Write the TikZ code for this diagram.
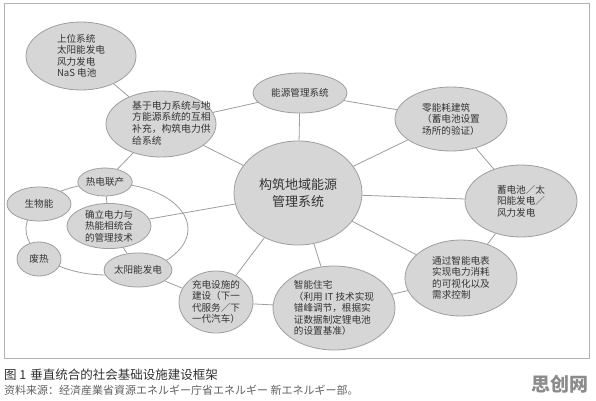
\documentclass[tikz,border=0pt]{standalone}
\usepackage{fontspec}
\setmainfont{Noto Sans CJK SC}
\usetikzlibrary{shapes.geometric,backgrounds}
\begin{document}
\begin{tikzpicture}[x=1pt,y=-1pt,
  bub/.style={ellipse, draw=black!38, fill=black!16, line width=0.8pt, inner sep=0pt,
    text=black!80, align=left, font=\fontsize{9.6}{11.5}\selectfont},
  conn/.style={draw=black!38, line width=0.8pt},
  txt/.style={inner sep=0pt, text=black!80, align=left, font=\fontsize{9.8}{11.6}\selectfont}]
\useasboundingbox (0,0) rectangle (596,400);
% nodes
\node[bub, minimum width=110, minimum height=68] (A) at (81,56) {上位系统\\太阳能发电\\风力发电\\NaS 电池};
\node[bub, minimum width=110, minimum height=66] (B) at (161,124) {};
\node[txt, anchor=west] (Bt) at (132,123) {基于电力系统与地\\方能源系统的互相\\补充，构筑电力供\\给系统};
\node[bub, minimum width=94, minimum height=40] (C) at (300,93) {能源管理系统};
\node[bub, minimum width=112, minimum height=64] (D) at (451,119) {零能耗建筑\\（蓄电池设置\\场所的验证）};
\node[bub, minimum width=128, minimum height=104, align=center, font=\fontsize{13}{17}\selectfont] (E) at (298,193) {构筑地域能源\\管理系统};
\node[bub, minimum width=112, minimum height=72] (F) at (521,201) {蓄电池／太\\阳能发电／\\风力发电};
\node[bub, minimum width=112, minimum height=76] (G) at (461,278) {通过智能电表\\实现电力消耗\\的可视化以及\\需求控制};
\node[bub, minimum width=122, minimum height=84] (H) at (334,308) {智能住宅\\（利用 IT 技术实现\\错峰调节，根据实\\证数据制定锂电池\\的设置基准）};
\node[bub, minimum width=74, minimum height=62] (I) at (216,302) {充电设施的\\建设（下一\\代服务／下\\一代汽车）};
\node[bub, minimum width=64, minimum height=34] (J) at (138,270) {太阳能发电};
\node[bub, minimum width=84, minimum height=42] (K) at (109,226) {确立电力与\\热能相统合\\的管理技术};
\node[bub, minimum width=54, minimum height=28] (L) at (105,182) {热电联产};
\node[bub, minimum width=64, minimum height=34] (M) at (39,204) {生物能};
\node[bub, minimum width=44, minimum height=34] (N) at (39,259) {废热};
% background: page, frame, loop and connectors
\begin{pgfonlayer}{background}
\fill[white] (0,0) rectangle (596,400);
\draw[black!30, line width=0.8pt] (4,3) rectangle (589,358);
\draw[conn] (107,229) ellipse [x radius=81, y radius=46];
\draw[conn] (B) -- (A);
\draw[conn] (B) -- (C);
\draw[conn] (B) -- (E);
\draw[conn] (B) -- (L);
\draw[conn] (C) -- (E);
\draw[conn] (C) -- (D);
\draw[conn] (D) -- (E);
\draw[conn] (D) -- (F);
\draw[conn] (E) -- (F);
\draw[conn] (E) -- (G);
\draw[conn] (F) -- (G);
\draw[conn] (E) -- (I);
\draw[conn] (E) -- (H);
\draw[conn] (H) -- (G);
\draw[conn] (I) -- (H);
\draw[conn] (J) -- (I);
\draw[conn] (K) -- (E);
\draw[conn] (L) -- (K);
\draw[conn] (K) -- (J);
\end{pgfonlayer}
% caption
\node[anchor=west, inner sep=0pt, text=black!80, font=\fontsize{12.5}{14}\selectfont] (cap1) at (4,375) {图 1\hspace{4pt}垂直统合的社会基础设施建设框架};
\node[anchor=west, inner sep=0pt, text=black!62, font=\fontsize{11}{13}\selectfont] (cap2) at (4,390) {资料来源：经済産業省資源エネルギー庁省エネルギー 新エネルギー部。};
\node[inner sep=0pt, text=black!45, font=\bfseries\fontsize{19}{19}\selectfont] (wm) at (560,384) {思创网};
\end{tikzpicture}
\end{document}
